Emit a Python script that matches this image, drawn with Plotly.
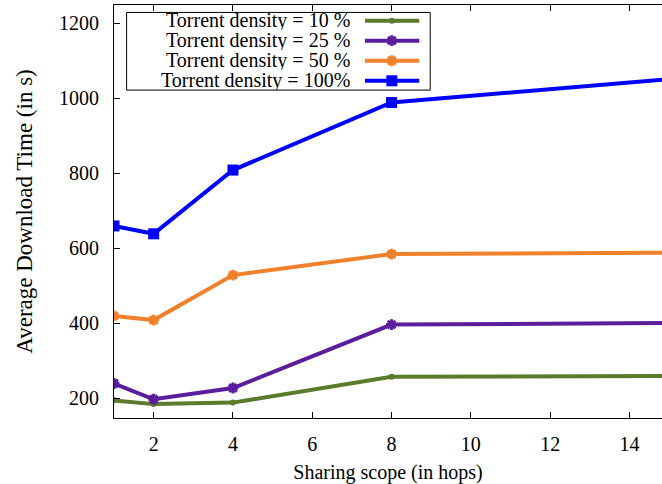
import plotly.graph_objects as go

# Sharing scope (hops) and average download time (s) per torrent density
hops = [1, 2, 4, 8, 16]
time_10 = [195, 185, 189, 258, 260]
time_25 = [240, 198, 228, 397, 402]
time_50 = [420, 409, 529, 585, 589]
time_100 = [660, 639, 809, 989, 1060]

series_names = [
    "Torrent density = 10 %",
    "Torrent density = 25 %",
    "Torrent density = 50 %",
    "Torrent density = 100%",
]
series_values = [time_10, time_25, time_50, time_100]

x_ticks = [2, 4, 6, 8, 10, 12, 14]
y_ticks = [200, 400, 600, 800, 1000, 1200]

colors = ["#5a7a2c", "#5a1e9c", "#f0812c", "#0000ff"]
markers = [
    dict(symbol="circle", size=6),
    dict(symbol="asterisk-open", size=9, line=dict(width=3)),
    dict(symbol="asterisk-open", size=9, line=dict(width=3)),
    dict(symbol="square", size=11),
]

FONT = "Liberation Serif"

fig = go.Figure()

for name, vals, col, mk in zip(series_names, series_values, colors, markers):
    m = dict(mk, color=col)
    if "line" in m:
        m["line"] = dict(m["line"], color=col)
    fig.add_trace(go.Scatter(
        x=hops, y=vals, mode="lines+markers", name=name,
        line=dict(color=col, width=4), marker=m, showlegend=False,
        cliponaxis=True,
    ))

# Key box in the upper left, drawn on an overlay axis spanning the plot area
row_y = [0.962, 0.9135, 0.865, 0.8165]
for name, col, mk, ry in zip(series_names, colors, markers, row_y):
    m = dict(mk, color=col)
    if "line" in m:
        m["line"] = dict(m["line"], color=col)
    fig.add_trace(go.Scatter(
        x=[0.458, 0.557], y=[ry, ry], mode="lines", xaxis="x2", yaxis="y2",
        line=dict(color=col, width=4), showlegend=False, hoverinfo="skip",
    ))
    fig.add_trace(go.Scatter(
        x=[0.507], y=[ry], mode="markers", xaxis="x2", yaxis="y2",
        marker=m, showlegend=False, hoverinfo="skip",
    ))
    fig.add_annotation(
        x=0.434, y=ry, xref="x2", yref="y2", text=name, showarrow=False,
        xanchor="right", yanchor="middle", height=19, valign="middle",
        font=dict(family=FONT, size=20, color="black"),
    )

fig.add_shape(
    type="rect", xref="x2", yref="y2", x0=0.023, x1=0.577, y0=0.794, y1=0.982,
    line=dict(color="black", width=1), fillcolor="rgba(0,0,0,0)", layer="below",
)

fig.update_layout(
    width=662, height=484,
    margin=dict(l=114, r=0, t=5, b=66),
    paper_bgcolor="white", plot_bgcolor="white",
    font=dict(family=FONT, size=20, color="black"),
    xaxis=dict(
        range=[1, 14.82], tickvals=x_ticks, ticks="inside", ticklen=6,
        tickcolor="black", showline=True, linecolor="black", linewidth=1,
        mirror="ticks", showgrid=False, zeroline=False, automargin=False,
        tickfont=dict(family=FONT, size=20), ticklabelstandoff=8,
        title=dict(text="Sharing scope (in hops)", standoff=17,
                   font=dict(family=FONT, size=20)),
    ),
    yaxis=dict(
        range=[148, 1249], tickvals=y_ticks, ticks="inside", ticklen=6,
        tickcolor="black", showline=True, linecolor="black", linewidth=1,
        mirror=False, showgrid=False, zeroline=False, automargin=False,
        tickfont=dict(family=FONT, size=20), ticklabelstandoff=10,
        title=dict(text="Average Download Time (in s)", standoff=19,
                   font=dict(family=FONT, size=23)),
    ),
    xaxis2=dict(range=[0, 1], overlaying="x", visible=False),
    yaxis2=dict(range=[0, 1], overlaying="y", visible=False),
)

fig.write_html("out.html")
